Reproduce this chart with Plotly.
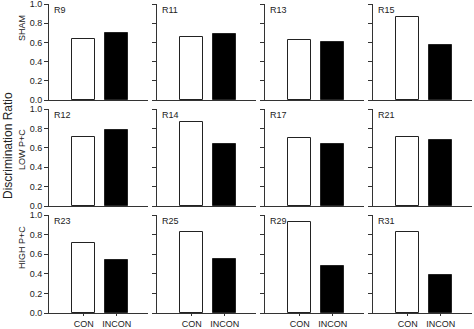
import plotly.graph_objects as go

# ---- data ----
categories = ["CON", "INCON"]
panel_names = [["R9", "R11", "R13", "R15"],
               ["R12", "R14", "R17", "R21"],
               ["R23", "R25", "R29", "R31"]]
row_labels = ["SHAM", "LOW P+C", "HIGH P+C"]
con_values = [[0.64, 0.66, 0.63, 0.86],
              [0.71, 0.87, 0.70, 0.71],
              [0.71, 0.83, 0.93, 0.83]]
incon_values = [[0.70, 0.69, 0.60, 0.57],
                [0.78, 0.64, 0.64, 0.68],
                [0.54, 0.55, 0.48, 0.39]]
y_ticks = [0.0, 0.2, 0.4, 0.6, 0.8, 1.0]
y_title = "Discrimination Ratio"

W, H = 474, 329
col_left = [49, 157, 265, 373]
col_w = 99
row_px = [(4, 100), (109, 206), (215, 313)]
row_label_y = [28, 150, 248]

FONT = "Arial, Liberation Sans, sans-serif"
TXT = "#222"
AX = "#333"

fig = go.Figure()
layout = dict(
    width=W, height=H, margin=dict(l=0, r=0, t=0, b=0),
    paper_bgcolor="white", plot_bgcolor="white", showlegend=False,
    font=dict(family=FONT, size=9, color=TXT), bargap=0,
)
annotations = []
xpos = [0, 1]
for r in range(3):
    for c in range(4):
        i = r * 4 + c + 1
        xa = "x" if i == 1 else f"x{i}"
        ya = "y" if i == 1 else f"y{i}"
        fig.add_trace(go.Bar(
            x=xpos, y=[con_values[r][c], incon_values[r][c]],
            width=0.7, xaxis=xa, yaxis=ya,
            marker=dict(color=["white", "black"], line=dict(color="#222", width=1)),
        ))
        top, bot = row_px[r]
        xd = [col_left[c] / W, (col_left[c] + col_w) / W]
        yd = [(H - bot) / H, (H - top) / H]
        xkey = "xaxis" if i == 1 else f"xaxis{i}"
        ykey = "yaxis" if i == 1 else f"yaxis{i}"
        last = (r == 2)
        layout[xkey] = dict(
            domain=xd, anchor=ya, range=[-1.05, 1.95], showgrid=False, zeroline=False,
            showline=True, linecolor=AX, linewidth=1,
            tickvals=xpos, ticktext=categories if last else ["", ""],
            showticklabels=last, ticks="outside" if last else "", ticklen=2,
            tickcolor=AX, automargin=False, fixedrange=True,
            tickfont=dict(size=9, family=FONT, color=TXT),
        )
        layout[ykey] = dict(
            domain=yd, anchor=xa, range=[0, 1], showgrid=False, zeroline=False,
            showline=True, linecolor=AX, linewidth=1,
            tickvals=y_ticks, ticktext=[f"{v:.1f}" for v in y_ticks],
            showticklabels=(c == 0), ticks="outside", ticklen=4, tickcolor=AX,
            automargin=False, fixedrange=True, ticklabeloverflow="allow",
            tickfont=dict(size=9, family=FONT, color=TXT),
        )
        annotations.append(dict(
            text=panel_names[r][c], xref=f"{xa} domain", yref=f"{ya} domain",
            x=0.03, y=1, xanchor="left", yanchor="top", showarrow=False,
            font=dict(size=9, family=FONT, color=TXT), yshift=1,
        ))
    annotations.append(dict(
        text=row_labels[r], xref="paper", yref="paper",
        x=22 / W, y=(H - row_label_y[r]) / H, textangle=-90,
        xanchor="center", yanchor="middle", showarrow=False,
        font=dict(size=9, family=FONT, color=TXT),
    ))
annotations.append(dict(
    text=y_title, xref="paper", yref="paper", x=8 / W, y=(H - 146) / H,
    textangle=-90, xanchor="center", yanchor="middle", showarrow=False,
    font=dict(size=12, family=FONT, color=TXT),
))
layout["annotations"] = annotations
fig.update_layout(**layout)
fig.write_html("out.html")
